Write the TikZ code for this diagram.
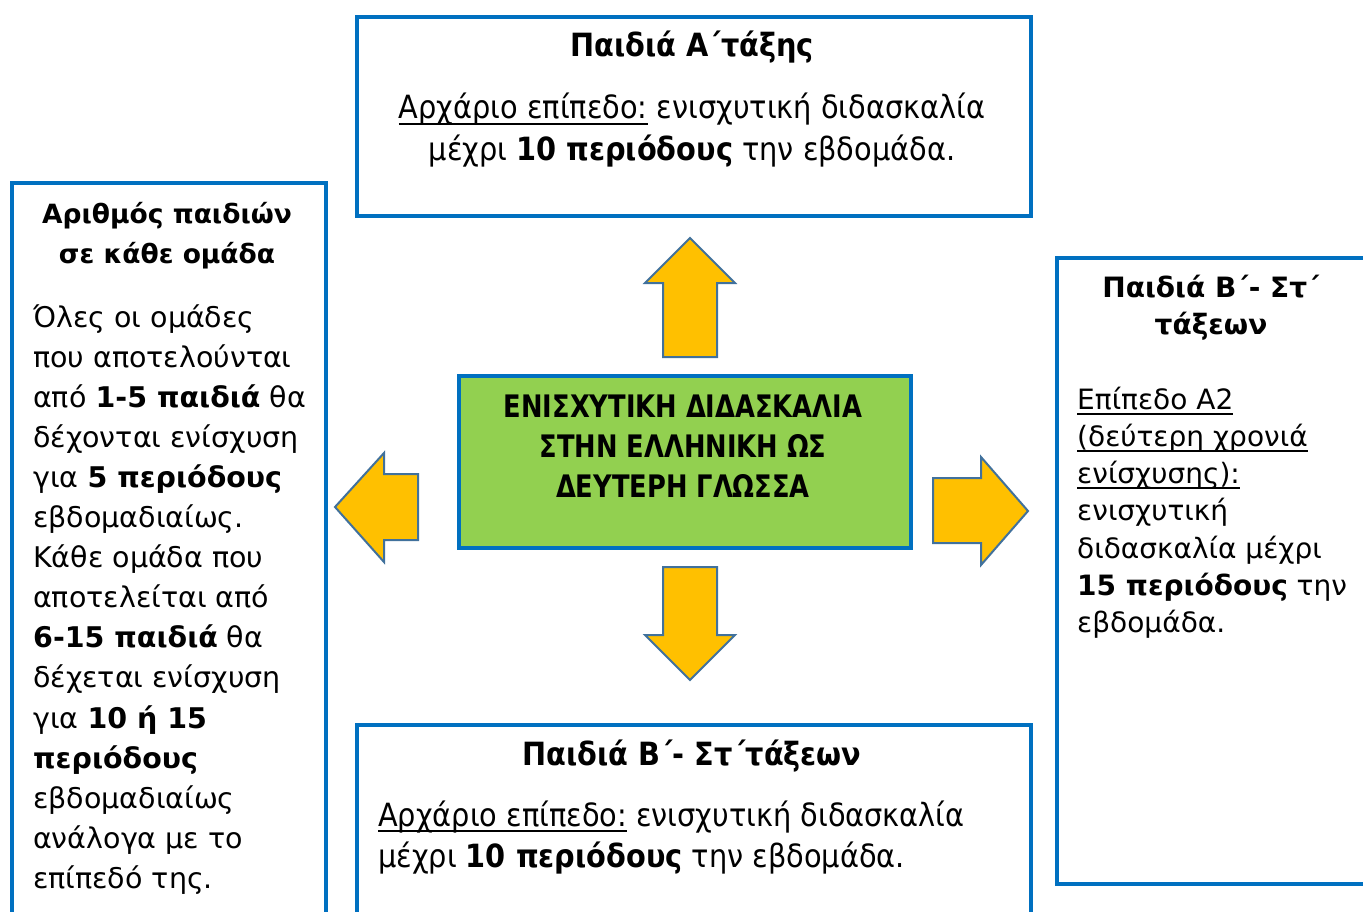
\documentclass[tikz,border=0pt]{standalone}
\usepackage{fontspec}
\setmainfont{DejaVu Sans}
\newfontfamily\sidefont{DejaVu Sans}
\newfontfamily\narrowfont[FakeStretch=0.9]{DejaVu Sans}
\newfontfamily\capsfont[FakeStretch=0.83]{DejaVu Sans}
\definecolor{bordblue}{HTML}{0070C0}
\definecolor{boxgreen}{HTML}{92D050}
\definecolor{arrfill}{HTML}{FFC000}
\definecolor{arrline}{HTML}{41719C}
\newcommand\myul[1]{\setbox0\hbox{#1}\rlap{\rule[-0.2em]{\wd0}{0.07em}}\box0\relax}
\begin{document}
\begin{tikzpicture}[x=1pt,y=-1pt,
  box/.style={draw=bordblue, line width=4pt, fill=white, inner sep=0pt, anchor=north west},
  arrowshape/.style={fill=arrfill, draw=arrline, line width=2pt, line join=miter},
  lefttxt/.style={inner sep=0pt, font={\sidefont\fontsize{28.5}{34}\selectfont}},
  lefttitle/.style={inner sep=0pt, font={\sidefont\bfseries\fontsize{26.5}{32}\selectfont}},
  righttxt/.style={inner sep=0pt, font={\sidefont\fontsize{28}{33}\selectfont}},
  toptxt/.style={inner sep=0pt, font={\narrowfont\fontsize{32}{38}\selectfont}},
  centertxt/.style={inner sep=0pt, font={\capsfont\bfseries\fontsize{31}{37}\selectfont}}]
\clip (0,0) rectangle (1363,912);
\fill[white] (0,0) rectangle (1363,912);

% boxes
\node[box, minimum width=674pt, minimum height=199pt] (topbox) at (355,15) {};
\node[box, minimum width=314pt, minimum height=760pt] (leftbox) at (10,181) {};
\node[box, minimum width=330pt, minimum height=626pt] (rightbox) at (1055,256) {};
\node[box, minimum width=674pt, minimum height=220pt] (bottombox) at (355,723) {};
\node[box, fill=boxgreen, minimum width=452pt, minimum height=172pt] (centerbox) at (457,374) {};

% block arrows
\draw[arrowshape] (663,357) -- (663,283) -- (645,283) -- (690,238) -- (735,283) -- (717,283) -- (717,357) -- cycle;
\draw[arrowshape] (663,567) -- (663,635) -- (645,635) -- (690,680) -- (735,635) -- (717,635) -- (717,567) -- cycle;
\draw[arrowshape] (418,474) -- (384,474) -- (384,453) -- (335,507) -- (384,562) -- (384,540) -- (418,540) -- cycle;
\draw[arrowshape] (933,478) -- (981,478) -- (981,457) -- (1028,511) -- (981,565) -- (981,543) -- (933,543) -- cycle;

% center text
\node[centertxt, anchor=base] (c1) at (683,417) {ΕΝΙΣΧΥΤΙΚΗ ΔΙΔΑΣΚΑΛΙΑ};
\node[centertxt, anchor=base] (c2) at (683,457) {ΣΤΗΝ ΕΛΛΗΝΙΚΗ ΩΣ};
\node[centertxt, anchor=base] (c3) at (683,497) {ΔΕΥΤΕΡΗ ΓΛΩΣΣΑ};

% top box text
\node[toptxt, anchor=base] (t0) at (692,57) {\textbf{Παιδιά Α΄τάξης}};
\node[toptxt, anchor=base] (t1) at (692,119) {\myul{Αρχάριο επίπεδο:} ενισχυτική διδασκαλία};
\node[toptxt, anchor=base] (t2) at (692,161) {μέχρι \textbf{10 περιόδους} την εβδομάδα.};

% bottom box text
\node[toptxt, anchor=base] (b0) at (692,765) {\textbf{Παιδιά Β΄- Στ΄τάξεων}};
\node[toptxt, anchor=base west] (b1) at (378,826) {\myul{Αρχάριο επίπεδο:} ενισχυτική διδασκαλία};
\node[toptxt, anchor=base west] (b2) at (378,867) {μέχρι \textbf{10 περιόδους} την εβδομάδα.};

% left box text
\node[lefttitle, anchor=base] (lt1) at (167,224) {Αριθμός παιδιών};
\node[lefttitle, anchor=base] (lt2) at (167,263) {σε κάθε ομάδα};
\foreach \t [count=\i] in {%
  {Όλες οι ομάδες},
  {που αποτελούνται},
  {από \textbf{1-5 παιδιά} θα},
  {δέχονται ενίσχυση},
  {για \textbf{5 περιόδους}},
  {εβδομαδιαίως.},
  {Κάθε ομάδα που},
  {αποτελείται από},
  {\textbf{6-15 παιδιά} θα},
  {δέχεται ενίσχυση},
  {για \textbf{10 ή 15}},
  {\textbf{περιόδους}},
  {εβδομαδιαίως},
  {ανάλογα με το},
  {επίπεδό της.}}
  \node[lefttxt, anchor=base west] (l\i) at ({33},{327+40.1*(\i-1)}) {\t};

% right box text
\node[righttxt, anchor=base] (rt1) at (1211,297) {\textbf{Παιδιά Β΄- Στ΄}};
\node[righttxt, anchor=base] (rt2) at (1211,334) {\textbf{τάξεων}};
\foreach \t [count=\i] in {%
  {\myul{Επίπεδο Α2}},
  {\myul{(δεύτερη χρονιά}},
  {\myul{ενίσχυσης):}},
  {ενισχυτική},
  {διδασκαλία μέχρι},
  {\textbf{15 περιόδους} την},
  {εβδομάδα.}}
  \node[righttxt, anchor=base west] (r\i) at ({1077},{409+37.3*(\i-1)}) {\t};
\end{tikzpicture}
\end{document}
